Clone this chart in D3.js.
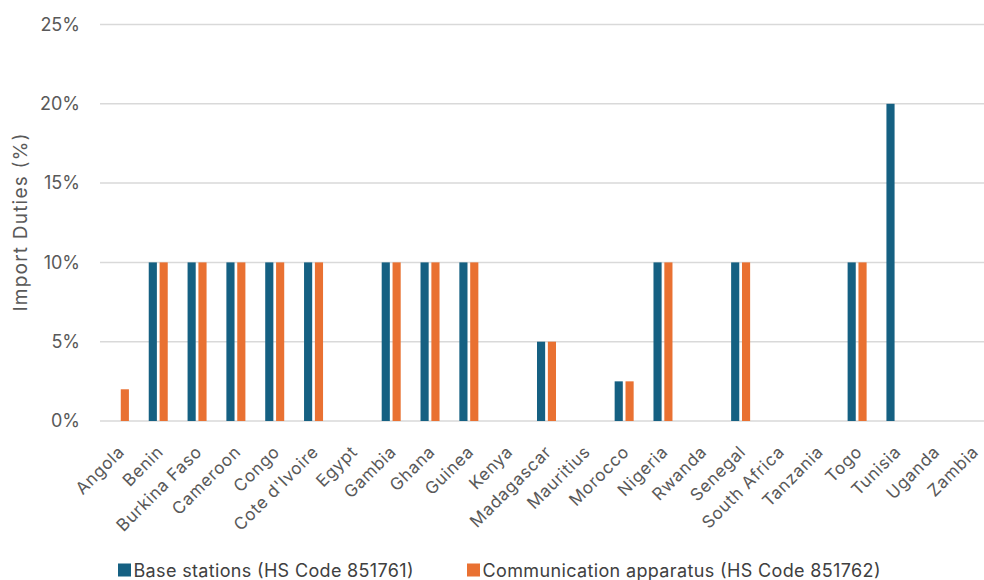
<!DOCTYPE html>
<html>
<head>
<meta charset="utf-8">
<script src="https://cdn.jsdelivr.net/npm/d3@7"></script>
<style>
  html, body { margin: 0; padding: 0; background: #fff; }
  svg { display: block; font-family: "Inter", "Lato", sans-serif; }
</style>
</head>
<body>
<svg id="chart" width="984" height="580"></svg>
<script>
// Import duties on telecom equipment by country
const countries = ["Angola", "Benin", "Burkina Faso", "Cameroon", "Congo", "Cote d'Ivoire", "Egypt",
  "Gambia", "Ghana", "Guinea", "Kenya", "Madagascar", "Mauritius", "Morocco", "Nigeria", "Rwanda",
  "Senegal", "South Africa", "Tanzania", "Togo", "Tunisia", "Uganda", "Zambia"];
const baseStations = [0, 10, 10, 10, 10, 10, 0, 10, 10, 10, 0, 5, 0, 2.5, 10, 0, 10, 0, 0, 10, 20, 0, 0];
const commApparatus = [2, 10, 10, 10, 10, 10, 0, 10, 10, 10, 0, 5, 0, 2.5, 10, 0, 10, 0, 0, 10, 0, 0, 0];
const seriesNames = ["Base stations (HS Code 851761)", "Communication apparatus (HS Code 851762)"];
const seriesColors = ["#156082", "#E97132"];
const yTicks = [0, 5, 10, 15, 20, 25];

const svg = d3.select("#chart");
const W = 984, H = 580;
const plotLeft = 100, plotRight = 993, plotTop = 24.5, plotBottom = 421;

const x = d3.scaleBand().domain(countries).range([plotLeft, plotRight]).padding(0);
const x1 = d3.scaleBand().domain([0, 1]).range([-9.5, 9.5]).paddingInner(0.25);
const y = d3.scaleLinear().domain([0, 25]).range([plotBottom, plotTop]);

// gridlines
svg.append("g")
  .selectAll("line")
  .data(yTicks)
  .join("line")
  .attr("x1", plotLeft).attr("x2", W)
  .attr("y1", d => y(d)).attr("y2", d => y(d))
  .attr("stroke", "#d9d9d9").attr("stroke-width", 1.5);

// y axis labels
const yAxis = d3.axisLeft(y).tickValues(yTicks).tickFormat(d => d + "%").tickSize(0).tickPadding(0);
const yg = svg.append("g").attr("transform", `translate(${80},0)`).call(yAxis);
yg.select(".domain").remove();
yg.selectAll("text")
  .attr("fill", "#595959")
  .attr("font-size", 18)
  .attr("font-family", "Inter, Lato, sans-serif");

// y axis title
svg.append("text")
  .attr("transform", `translate(27,222.5) rotate(-90)`)
  .attr("text-anchor", "middle")
  .attr("fill", "#595959")
  .attr("font-size", 19)
  .attr("textLength", 178)
  .attr("lengthAdjust", "spacing")
  .text("Import Duties (%)");

// bars
const data = countries.map((c, i) => ({ c, vals: [baseStations[i], commApparatus[i]] }));
const groups = svg.append("g").selectAll("g")
  .data(data)
  .join("g")
  .attr("transform", d => `translate(${x(d.c) + x.bandwidth() / 2},0)`);

groups.selectAll("rect")
  .data(d => d.vals.map((v, k) => ({ v, k })).filter(e => e.v > 0))
  .join("rect")
  .attr("x", e => x1(e.k))
  .attr("width", x1.bandwidth())
  .attr("y", e => y(e.v))
  .attr("height", e => y(0) - y(e.v))
  .attr("fill", e => seriesColors[e.k]);

// x axis labels, rotated
const xAxis = d3.axisBottom(x).tickSize(0).tickPadding(0);
const xg = svg.append("g").attr("transform", `translate(0,${plotBottom})`).call(xAxis);
xg.select(".domain").remove();
xg.selectAll("text")
  .attr("fill", "#595959")
  .attr("font-size", 17)
  .attr("letter-spacing", 0.7)
  .attr("font-family", "Inter, Lato, sans-serif")
  .attr("text-anchor", "end")
  .attr("dy", null)
  .attr("y", 0)
  .attr("transform", "translate(6,32) rotate(-45)");

// legend
const legendItems = [{ x: 118, k: 0, len: 280 }, { x: 467, k: 1, len: 398 }];
const lg = svg.append("g").selectAll("g")
  .data(legendItems)
  .join("g")
  .attr("transform", d => `translate(${d.x},570)`);
lg.append("rect")
  .attr("x", 0).attr("y", -6.5).attr("width", 13).attr("height", 13)
  .attr("fill", d => seriesColors[d.k]);
lg.append("text")
  .attr("x", 15.5).attr("y", 6.5)
  .attr("fill", "#404040")
  .attr("font-size", 18)
  .attr("textLength", d => d.len)
  .attr("lengthAdjust", "spacing")
  .text(d => seriesNames[d.k]);
</script>
</body>
</html>
